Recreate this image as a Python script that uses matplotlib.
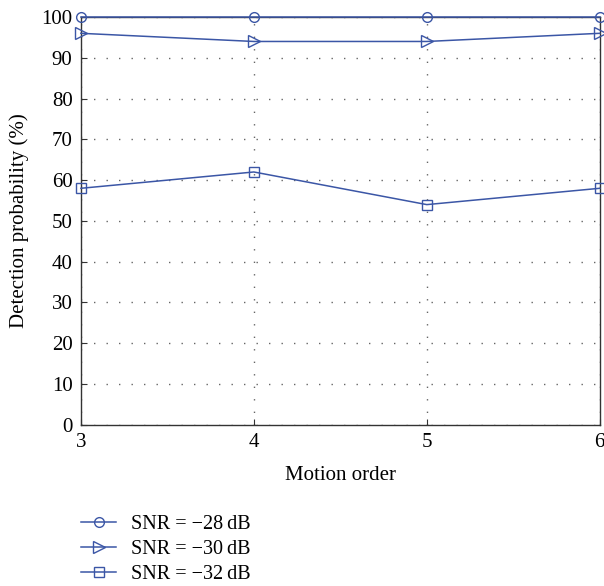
import matplotlib
matplotlib.use('Agg')
import matplotlib.pyplot as plt

plt.rcParams['font.family'] = ['Liberation Serif', 'DejaVu Serif']

motion_order = [3, 4, 5, 6]
snr_28 = [100, 100, 100, 100]
snr_30 = [96, 94, 94, 96]
snr_32 = [58, 62, 54, 58]
labels = ['SNR = \u221228\u2009dB', 'SNR = \u221230\u2009dB', 'SNR = \u221232\u2009dB']

color = '#3b56a6'

fig = plt.figure(figsize=(6.04, 5.86), dpi=100)
ax = fig.add_axes([0.134, 0.275, 0.859, 0.696])

ax.plot(motion_order, snr_28, color=color, lw=1.1, marker='o', ms=7, mfc='none', mew=1.0, label=labels[0], clip_on=False, zorder=3)
ax.plot(motion_order, snr_30, color=color, lw=1.1, marker='>', ms=8, mfc='none', mew=1.0, label=labels[1], clip_on=False, zorder=3)
ax.plot(motion_order, snr_32, color=color, lw=1.1, marker='s', ms=7, mfc='none', mew=1.0, label=labels[2], clip_on=False, zorder=3)

ax.set_xlim(3, 6)
ax.set_ylim(0, 100)
ax.set_xticks(motion_order)
ax.set_yticks(range(0, 101, 10))
ax.grid(True, linestyle=(0, (1, 8)), color='#666666', lw=1.0)
ax.tick_params(direction='in', length=4, labelsize=15, color='#333333', pad=6)
for s in ax.spines.values():
    s.set_color('#333333')
    s.set_linewidth(1.0)

ax.set_xlabel('Motion order', fontsize=15, labelpad=10)
ax.set_ylabel('Detection probability (%)', fontsize=15, labelpad=9)

ax.legend(loc='upper left', bbox_to_anchor=(0.0, -0.22), frameon=False, fontsize=14.5,
          handlelength=1.75, labelspacing=0.3, handletextpad=0.75,
          borderaxespad=0, borderpad=0)

fig.savefig('out.png', dpi=100)
